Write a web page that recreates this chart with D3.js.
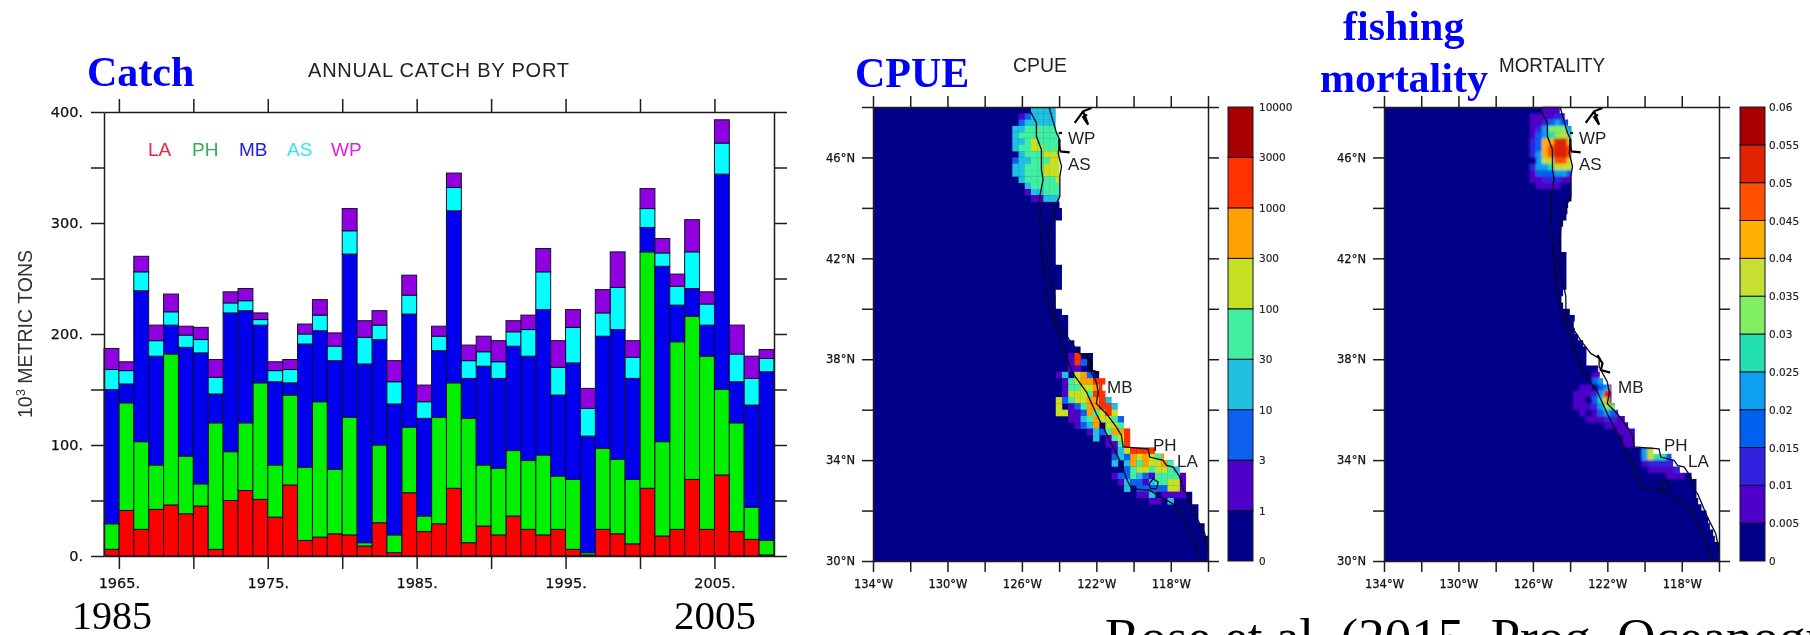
<!DOCTYPE html>
<html><head><meta charset="utf-8">
<style>html,body{margin:0;padding:0;background:#fff;overflow:hidden}svg{display:block}</style>
<script src="https://cdn.jsdelivr.net/npm/d3@7"></script></head><body>
<svg id="c" width="1810" height="635"></svg>
<script>
// ---------- annual catch by port (10^3 metric tons) ----------
const years = d3.range(1964, 2009);
const LA = [6,41,24,42,46,38,45,6,50,59,51,35,64,14,17,20,19,9,30,3,57,22,29,61,12,27,19,36,24,19,24,6,1,24,20,11,61,18,24,69,24,73,22,15,1];
const PH = [23,97,79,40,136,52,20,114,44,61,105,47,81,66,122,58,106,3,70,16,59,14,96,95,112,55,60,59,62,72,48,63,2,73,67,58,213,85,169,147,156,77,98,29,13];
const MB = [121,17,136,98,26,98,118,26,125,101,52,75,11,111,64,98,147,161,95,118,102,88,60,155,36,89,81,94,94,131,73,105,105,101,117,91,22,158,33,25,28,194,37,92,152];
const AS = [18,12,17,14,12,11,12,15,9,9,5,10,12,9,14,13,21,24,13,20,17,15,13,21,16,13,15,13,24,34,25,32,25,21,38,19,17,12,17,33,19,28,25,24,12];
const WP = [19,8,14,14,16,8,11,16,10,11,6,8,9,9,14,12,20,15,13,19,18,15,9,13,14,14,19,10,13,21,24,16,18,21,32,15,18,13,11,29,11,21,26,20,8];
const ports = ["LA","PH","MB","AS","WP"];
const portColors = ["#ff0000","#00f000","#0000ee","#00ffff","#9000e0"];
const legendColors = ["#ee2040","#30b050","#2020e0","#30e8e8","#e020e0"];
const legendX = [148,192,239,287,331];
const catchTicks = d3.range(0,401,50);
const yearTicks = d3.range(1965,2006,5);
const yearLabels = d3.range(1965,2006,10);

// ---------- map grids: columns are 1/3 deg, rows 1/4 deg, row 0 at 48N ----------
const cpueEdge = [29,29,29,29,29.6,29.6,29.6,29.6,29.6,29.6,29.6,29.6,29.6,29.6,29.6,29.6,30,30,29,29,29,29,29,29,29,30,30,30,30,29,29,29,30,31,31,31,31,32,33,35,35,35,36,37,36.5,37,38,39,39,40,40,41,41,41,45,46.5,48,49,50,50,50,51,51,52,52,52,53,53,54,54,54,54];
const mortEdge = [27.87,28.68,29.22,29.76,29.76,29.76,29.76,29.76,29.76,29.76,29.76,29.76,29.76,29.76,29.76,29.22,29.11,28.95,28.41,28.14,28.14,28.14,28.14,28.95,28.95,28.95,28.95,28.95,28.95,28.41,28.14,28.41,29.49,30.29,30.13,30.29,30.83,31.64,32.17,32.17,32.17,34.06,34.32,34.86,36.21,36.21,36.21,36.75,37.28,38.36,38.9,39.97,39.97,39.97,42.93,45.88,46.15,47.23,49.11,49.91,49.91,49.91,50.18,50.72,51.53,51.8,52.07,52.6,52.87,54,54,54];
// [row, first column, level of each cell]
const cpueCells = [[0,25,"3333"],[1,23,"123333"],[2,23,"233333"],[3,22,"3344444"],[4,22,"34444444"],[5,22,"33454444"],[6,22,"34455444"],[7,23,"3444555"],[8,22,"23344455"],[9,22,"33444555"],[10,22,"33444555"],[11,23,"3444445"],[12,24,"344444"],[13,24,"133444"],[14,25,"11333"],
[39,31,"17"],[40,31,"172"],[41,31,"11"],[42,29,"130562"],[43,30,"1456677"],[44,30,"1445567"],[45,30,"1555477"],[46,29,"524556673"],[47,29,"5012466773"],[48,29,"5511264575"],[49,31,"113465542"],[50,32,"12360554"],[51,34,"1324667"],[52,35,"301457"],[53,37,"1147"],[54,38,"1357777"],[55,38,"232656546"],[56,38,"3036465564"],[57,40,"245545543"],[58,38,"122432144441"],[59,39,"13221344551"],[60,40,"3022222551"],[61,42,"11301111"],[62,44,"1103"]];
const mortCells = [[0,25,"111"],[1,23,"1111221"],[2,23,"1123432"],[3,23,"1246664"],[4,23,"1345675"],[5,23,"2388aa8"],[6,23,"2389aa9"],[7,23,"2489aa9"],[8,24,"477997"],[9,23,"2445777"],[10,23,"1333443"],[11,23,"1122211"],[12,24,"1111"],
[41,34,"1"],[42,33,"111"],[43,33,"342"],[44,31,"11034a"],[45,30,"11124a"],[46,30,"110358"],[47,30,"1112466"],[48,31,"1013432"],[49,32,"1112211"],[50,35,"11111"],[51,37,"111"],[52,38,"11"],[53,38,"11"],[54,41,"47761"],[55,41,"4755321"],[56,41,"1222221"],[57,42,"1111221"],[58,45,"111"]];
const cpueLevels = ["0","1","3","10","30","100","300","1000","3000","10000"];
const cpueColors = ["#000088","#5000c8","#1060f0","#20c0e0","#40f0a0","#c8e020","#ffa000","#ff3000","#a80000"];
const mortLevels = ["0","0.005","0.01","0.015","0.02","0.025","0.03","0.035","0.04","0.045","0.05","0.055","0.06"];
const mortColors = ["#000088","#5000c8","#3020e0","#0060f0","#10a0f0","#20e0b0","#80f060","#c8e030","#ffb000","#ff5000","#e02000","#a80000"];
const lonTicks = d3.range(-134,-115,2), lonLabels = [-134,-130,-126,-122,-118];
const latTicks = d3.range(30,49,2), latLabels = [30,34,38,42,46];
const offshore = [[-125.67,48],[-125.22,47.37],[-125.22,46.84],[-124.95,46.31],[-124.95,45.51],[-124.86,45.12],[-125.04,44.45],[-125.04,43.66],[-124.95,42.6],[-124.82,41.54],[-124.59,40.09],[-124.32,39.55],[-123.96,38.75],[-123.25,37.43],[-122.53,36.7],[-122,35.84],[-121.46,35.05],[-120.74,33.99],[-120.34,33.2],[-120.11,32.87],[-119.13,32.8],[-117.6,32.14],[-116.97,31.21],[-116.35,30]];
const coast = [[-124.54,48],[-124.14,46.97],[-123.96,46.7],[-124.05,46.17],[-123.87,45.65],[-123.96,45.25],[-123.96,44.45],[-124.14,44.19],[-124.5,43.26],[-124.59,41.81],[-124.23,40.49],[-124.23,39.69],[-124.14,39.55],[-123.43,38.75],[-122.89,38.23],[-122.44,38.03],[-122.44,37.7],[-122,37.1],[-121.9,36.7],[-122,36.24],[-121.46,35.84],[-120.92,35.31],[-120.65,34.98],[-120.56,34.52],[-119.22,34.45],[-119.13,34.12],[-118.41,33.99],[-118.23,33.79],[-117.87,33.72],[-117.51,33.33],[-117.33,32.8],[-117.15,32.67],[-116.62,31.74],[-116.17,31.08],[-116,30.41]];
const island = [[-119.16,33.07],[-118.95,33.26],[-118.68,33.13],[-118.77,32.87],[-119.09,32.87],[-119.16,33.07]];
const puget = [[-123.16,47.37],[-122.71,47.83],[-122.26,47.96],[-122.71,47.83],[-122.44,47.3],[-122.71,47.6],[-122.5,47.7]];
const columbia = [[-123.96,46.24],[-123.43,46.2]];
const sfBay = [[-122.53,38.16],[-122.26,37.83],[-122.35,37.57],[-121.85,37.47]];
const willapa = [[-124,46.97],[-123.85,46.97]];
const grays = [[-124,46.72],[-123.96,46.25]];

const svg = d3.select("#c");
const ink = "#1c1c1c", sans = "'DejaVu Sans',sans-serif", helv = "'Liberation Sans',sans-serif", serif = "'Liberation Serif',serif";
const defs = svg.append("defs");
defs.append("filter").attr("id","soft").attr("x","-5%").attr("y","-5%").attr("width","110%").attr("height","110%").append("feGaussianBlur").attr("stdDeviation",0.55);
defs.append("filter").attr("id","heat").attr("x","-30%").attr("y","-30%").attr("width","160%").attr("height","160%").append("feGaussianBlur").attr("stdDeviation",1.2);
const stage = svg.append("g").attr("filter","url(#soft)");

function styleAxis(g, size){
  g.selectAll("path.domain").attr("stroke",ink).attr("stroke-width",1.5);
  g.selectAll(".tick line").attr("stroke",ink).attr("stroke-width",1.5);
  g.selectAll("text").attr("fill","#111").attr("font-family",sans).attr("font-size",size).attr("stroke","#111").attr("stroke-width",0.25);
}

// ---------- bar panel ----------
const x = d3.scaleLinear().domain([1964,2009]).range([104,774]);
const y = d3.scaleLinear().domain([0,400]).range([556,112]);
const rows = years.map((yr,i)=>({year:yr,LA:LA[i],PH:PH[i],MB:MB[i],AS:AS[i],WP:WP[i]}));
const stacked = d3.stack().keys(ports)(rows);
stage.append("g").selectAll("g").data(stacked).join("g").attr("fill",(d,i)=>portColors[i])
  .selectAll("rect").data(d=>d).join("rect")
  .attr("x",d=>x(d.data.year)).attr("width",x(1965)-x(1964))
  .attr("y",d=>y(d[1])).attr("height",d=>y(d[0])-y(d[1]))
  .attr("stroke","#101030").attr("stroke-width",1);
const tickLen = 13;
styleAxis(stage.append("g").attr("transform","translate(104,0)").call(d3.axisLeft(y).tickValues(catchTicks).tickSize(tickLen).tickPadding(8).tickSizeOuter(0).tickFormat(d=>d%100===0?d+".":"")),14.5);
styleAxis(stage.append("g").attr("transform","translate(774,0)").call(d3.axisRight(y).tickValues(catchTicks).tickSize(tickLen).tickSizeOuter(0).tickFormat("")),14.5);
styleAxis(stage.append("g").attr("transform","translate(0,112)").call(d3.axisTop(x).tickValues(yearTicks).tickSize(tickLen).tickSizeOuter(0).tickFormat("")),14.5);
styleAxis(stage.append("g").attr("transform","translate(0,556)").call(d3.axisBottom(x).tickValues(yearTicks).tickSize(tickLen).tickPadding(8.7).tickSizeOuter(0).tickFormat(d=>yearLabels.includes(d)?d+".":"")),14.5);
stage.append("text").text("ANNUAL CATCH BY PORT").attr("x",308).attr("y",76.5).attr("font-family",helv).attr("font-size",20).attr("fill","#222").attr("textLength",261).attr("lengthAdjust","spacing");
const yl = stage.append("text").attr("transform","translate(32,418) rotate(-90)").attr("font-family",helv).attr("font-size",19.5).attr("fill","#333");
yl.append("tspan").text("10");
yl.append("tspan").text("3").attr("font-size",13).attr("dy",-7);
yl.append("tspan").text(" METRIC TONS").attr("dy",7);
stage.append("g").selectAll("text").data(ports).join("text").text(d=>d)
  .attr("x",(d,i)=>legendX[i]).attr("y",156).attr("font-family",helv).attr("font-size",19).attr("fill",(d,i)=>legendColors[i]);

// ---------- map panels ----------
function mapPanel(left, edge, cells, colors, levels, cbX, labelX, labelPos, title, titleX, blur){
  const lon = d3.scaleLinear().domain([-134,-116]).range([left,left+335]);
  const lat = d3.scaleLinear().domain([30,48]).range([561,107]);
  const colX = c => lon(-134+(c+0.46)/3), rowY = r => lat(48-r/4);
  const g = stage.append("g");
  g.append("rect").attr("x",lon(-134)).attr("y",lat(48)).attr("width",lon(-116)-lon(-134)).attr("height",lat(30)-lat(48)).attr("fill",colors[0]);
  const flat = cells.flatMap(([r,c,s])=>Array.from(s,(ch,i)=>({r,c:c+i,v:parseInt(ch,16)}))).filter(d=>d.v>0);
  const hot = g.append("g"); if(blur) hot.attr("filter","url(#heat)");
  hot.selectAll("rect").data(flat).join("rect")
    .attr("x",d=>colX(d.c)).attr("y",d=>rowY(d.r)).attr("width",lon(-134+1/3)-lon(-134)+0.3).attr("height",rowY(1)-rowY(0)+0.3).attr("fill",d=>colors[d.v]);
  // land mask, one stepped shape so that no seams show between rows
  const right = lon(-116)+0.5;
  const landEdge = edge.flatMap((d,i)=>[[Math.min(colX(d),lon(-116)),rowY(i)],[Math.min(colX(d),lon(-116)),rowY(i+1)]]);
  g.append("path").attr("fill","#fff").attr("d",d3.line()([[right,rowY(0)],...landEdge,[right,rowY(edge.length)]])+"Z");
  const line = d3.line().x(d=>lon(d[0])).y(d=>lat(d[1]));
  const lines = g.append("g").attr("fill","none").attr("stroke","#0a0a20").attr("stroke-width",1.3);
  lines.selectAll("path").data([offshore,coast,island]).join("path").attr("d",line);
  g.append("g").attr("fill","none").attr("stroke","#000").attr("stroke-width",2.2).selectAll("path").data([puget,columbia,sfBay,willapa,grays]).join("path").attr("d",line);
  const lf = d=>`${-d}°W`, nf = d=>`${d}°N`;
  styleAxis(g.append("g").attr("transform",`translate(${left},0)`).call(d3.axisLeft(lat).tickValues(latTicks).tickSize(11).tickPadding(7).tickSizeOuter(0).tickFormat(d=>latLabels.includes(d)?nf(d):"")),11.5);
  styleAxis(g.append("g").attr("transform",`translate(${left+335},0)`).call(d3.axisRight(lat).tickValues(latTicks).tickSize(11).tickSizeOuter(0).tickFormat("")),11.5);
  styleAxis(g.append("g").attr("transform","translate(0,107)").call(d3.axisTop(lon).tickValues(lonTicks).tickSize(11).tickSizeOuter(0).tickFormat("")),11.5);
  styleAxis(g.append("g").attr("transform","translate(0,561)").call(d3.axisBottom(lon).tickValues(lonTicks).tickSize(11).tickPadding(8).tickSizeOuter(0).tickFormat(d=>lonLabels.includes(d)?lf(d):"")),11.5);
  g.append("text").text(title).attr("x",titleX).attr("y",72).attr("font-family",helv).attr("font-size",20).attr("fill","#222").attr("textLength",title.length>4?106:54).attr("lengthAdjust","spacingAndGlyphs");
  g.append("g").selectAll("text").data(labelPos).join("text").text(d=>d[0]).attr("x",d=>left+d[1]).attr("y",d=>d[2]).attr("font-family",helv).attr("font-size",17).attr("fill","#222");
  // colour bar
  const cb = d3.scaleLinear().domain([0,colors.length]).range([561,107]);
  g.append("g").selectAll("rect").data(colors).join("rect").attr("x",cbX).attr("width",25)
    .attr("y",(d,i)=>cb(i+1)).attr("height",(d,i)=>cb(i)-cb(i+1)).attr("fill",d=>d).attr("stroke","#10102a").attr("stroke-width",1);
  g.append("g").selectAll("text").data(levels).join("text").text(d=>d)
    .attr("x",labelX).attr("y",(d,i)=>cb(i)+4).attr("font-family",sans).attr("font-size",10.5).attr("fill","#222").attr("stroke","#222").attr("stroke-width",0.15);
}
const labelOffsets = [["WP",195,144],["AS",195,170],["MB",234,393],["PH",280,451],["LA",304,467]];
mapPanel(873, cpueEdge, cpueCells, cpueColors, cpueLevels, 1228, 1259, labelOffsets, "CPUE", 1013, false);
mapPanel(1384, mortEdge, mortCells, mortColors, mortLevels, 1740, 1769, labelOffsets, "MORTALITY", 1499, true);

// ---------- slide annotations ----------
const notes = svg.append("g").attr("font-family",serif);
const notePos = [["Catch",87,86,42,"bold","#0000ff"],["CPUE",855,87,42,"bold","#0000ff"],["fishing",1343,40,42,"bold","#0000ff"],["mortality",1320,92,42,"bold","#0000ff"],["1985",72,629,40,"normal","#000"],["2005",674,629,41,"normal","#000"],["Rose et al. (2015, Prog. Oceanogr",1105,655,53,"normal","#000"]];
notes.selectAll("text").data(notePos).join("text").text(d=>d[0]).attr("x",d=>d[1]).attr("y",d=>d[2]).attr("font-size",d=>d[3]).attr("font-weight",d=>d[4]).attr("fill",d=>d[5]);
</script></body></html>
